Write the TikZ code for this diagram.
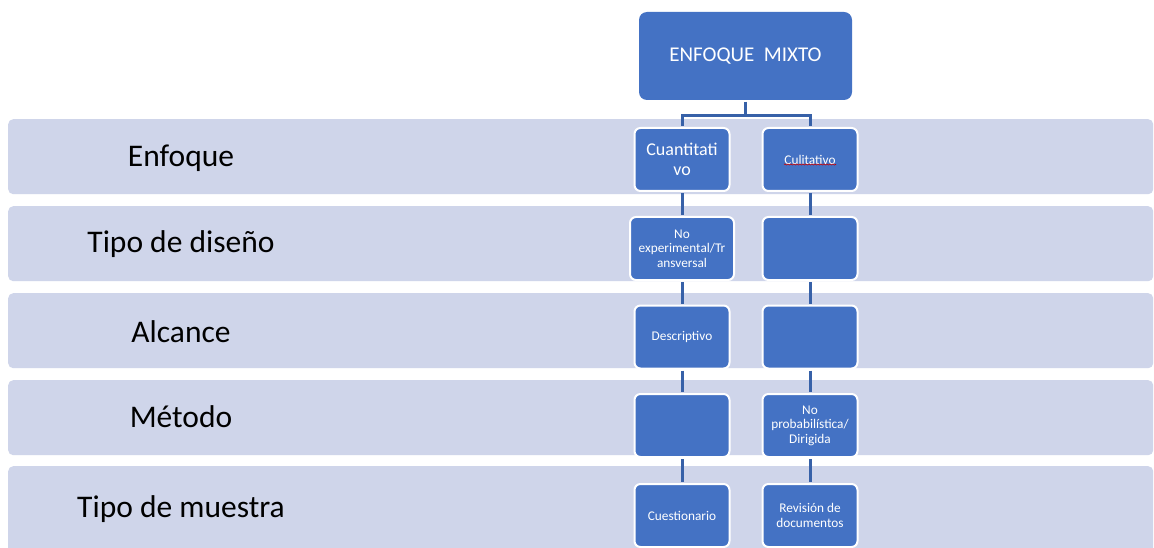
\documentclass[tikz,border=0pt]{standalone}
\usepackage{fontspec}
\setmainfont{Carlito}
\usetikzlibrary{decorations.pathmorphing}
\definecolor{boxblue}{HTML}{4472C4}
\definecolor{bandfill}{HTML}{CFD5EA}
\definecolor{linkblue}{HTML}{3761A8}
\begin{document}
\begin{tikzpicture}[x=1pt,y=-1pt,
  band/.style={fill=bandfill, draw=none, rounded corners=5pt, minimum width=1145pt, minimum height=75pt, anchor=north west, inner sep=0pt},
  lbl/.style={anchor=base, text=black, font=\fontsize{31.5}{36}\selectfont, inner sep=0pt},
  box/.style={fill=boxblue, draw=white, line width=2pt, rounded corners=6pt, text=white, align=center, inner sep=0pt, minimum width=95pt, minimum height=63pt, font=\fontsize{13.3}{14.5}\selectfont},
  link/.style={draw=linkblue, line width=3pt, shorten <=1pt, shorten >=1pt}
]
\clip (0,0) rectangle (1154,548);
\fill[white] (0,0) rectangle (1154,548);

% bands
\node[band] (b1) at (8,119) {};
\node[band] (b2) at (8,206) {};
\node[band] (b3) at (8,293) {};
\node[band] (b4) at (8,380) {};
\node[band, minimum height=100pt] (b5) at (8,466) {};

% row labels
\node[lbl] (l1) at (181,167) {Enfoque};
\node[lbl] (l2) at (181,253) {Tipo de diseño};
\node[lbl] (l3) at (181,342) {Alcance};
\node[lbl] (l4) at (181,427) {Método};
\node[lbl] (l5) at (181,517) {Tipo de muestra};

% top box
\node[box, draw=none, rounded corners=8pt, minimum width=213pt, minimum height=88pt, font=\fontsize{21}{24}\selectfont] (top) at (745.5,56) {ENFOQUE\ \ MIXTO};

% column boxes
\node[box, font=\fontsize{18}{19.5}\selectfont] (q1) at (682,159.5) {Cuantitati\\vo};
\node[box] (q2) at (810,159.5) {Culitativo};
\node[box, minimum width=104pt] (q3) at (682,248.5) {No\\experimental/Tr\\ansversal};
\node[box] (q4) at (810,248.5) {};
\node[box] (q5) at (682,337) {Descriptivo};
\node[box] (q6) at (810,337) {};
\node[box] (q7) at (682,425.5) {};
\node[box] (q8) at (810,425.5) {No\\probabilística/\\Dirigida};
\node[box] (q9) at (682,515.5) {Cuestionario};
\node[box] (q10) at (810,515.5) {Revisión de\\documentos};

% spell-check underline
\coordinate (u1) at (784,164.5);
\coordinate (u2) at (836,164.5);
\draw[red!80!black, line width=0.6pt, decorate, decoration={snake, amplitude=0.6pt, segment length=3pt}] (u1) -- (u2);

% connectors
\draw[link] (top.south) -- ++(0,15) -| (q1.north);
\draw[link] (top.south) -- ++(0,15) -| (q2.north);
\draw[link] (q1.south) -- (q3.north);
\draw[link] (q3.south) -- (q5.north);
\draw[link] (q5.south) -- (q7.north);
\draw[link] (q7.south) -- (q9.north);
\draw[link] (q2.south) -- (q4.north);
\draw[link] (q4.south) -- (q6.north);
\draw[link] (q6.south) -- (q8.north);
\draw[link] (q8.south) -- (q10.north);
\end{tikzpicture}
\end{document}
